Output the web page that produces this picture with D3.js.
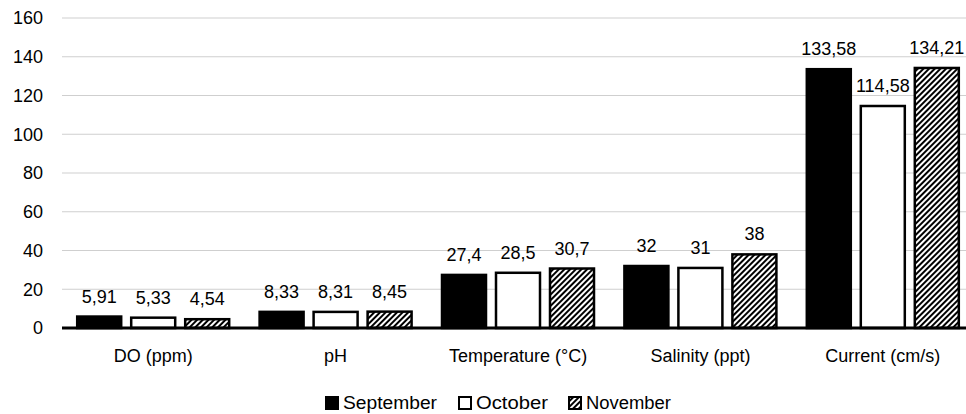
<!DOCTYPE html>
<html>
<head>
<meta charset="utf-8">
<script src="https://cdn.jsdelivr.net/npm/d3@7"></script>
<style>
  body { margin: 0; background: #fff; overflow: hidden; }
  text { font-family: "Liberation Sans", Arial, sans-serif; fill: #000; }
</style>
</head>
<body>
<div id="chart"></div>
<script>
// chart data
const categories = ["DO (ppm)", "pH", "Temperature (°C)", "Salinity (ppt)", "Current (cm/s)"];
const months = ["September", "October", "November"];
const september = [5.91, 8.33, 27.4, 32, 133.58];
const october = [5.33, 8.31, 28.5, 31, 114.58];
const november = [4.54, 8.45, 30.7, 38, 134.21];
const yTicks = [0, 20, 40, 60, 80, 100, 120, 140, 160];

const series = [september, october, november];
const fmt = v => String(v).replace(".", ",");

const width = 966, height = 414;
// plot area runs a little past the right edge (cropped like the original)
const margin = {top: 18, left: 62};
const innerW = 912, innerH = 310;

const svg = d3.select("#chart").append("svg")
    .attr("width", width)
    .attr("height", height);

// hatch pattern for November
const defs = svg.append("defs");
const pat = defs.append("pattern")
    .attr("id", "hatch")
    .attr("patternUnits", "userSpaceOnUse")
    .attr("width", 4).attr("height", 4)
    .attr("patternTransform", "rotate(45)");
pat.append("rect").attr("width", 4).attr("height", 4).attr("fill", "#fff");
pat.append("rect").attr("width", 2).attr("height", 4).attr("fill", "#000");

const fills = ["#000", "#fff", "url(#hatch)"];

const g = svg.append("g").attr("transform", `translate(${margin.left},${margin.top})`);

const x = d3.scaleBand().domain(categories).range([0, innerW]);
const barW = 44, barGap = 10;
const groupW = 3 * barW + 2 * barGap;
const xs = d3.scaleBand().domain(months).range([0, groupW]).paddingInner(barGap / (barW + barGap));
const groupOff = (x.bandwidth() - groupW) / 2;

const y = d3.scaleLinear().domain([0, 160]).range([innerH, 0]);

// gridlines
g.append("g")
  .selectAll("line")
  .data(yTicks.filter(d => d > 0))
  .enter().append("line")
    .attr("x1", 0).attr("x2", innerW)
    .attr("y1", d => y(d)).attr("y2", d => y(d))
    .attr("stroke", "#cfcfcf")
    .attr("stroke-width", 1.2);

// y axis labels
const yAxis = g.append("g")
  .attr("transform", "translate(-19,0)")
  .call(d3.axisLeft(y).tickValues(yTicks).tickSize(0).tickPadding(0));
yAxis.select(".domain").remove();
yAxis.selectAll("text").style("font-size", "18px").attr("fill", "#000");

// bars
months.forEach((m, i) => {
  g.selectAll(".bar" + i)
    .data(series[i])
    .enter().append("rect")
      .attr("x", (d, j) => x(categories[j]) + groupOff + xs(m))
      .attr("y", d => y(d))
      .attr("width", xs.bandwidth())
      .attr("height", d => y(0) - y(d))
      .attr("fill", fills[i])
      .attr("stroke", "#000")
      .attr("stroke-width", 2.5);

  g.selectAll(".lab" + i)
    .data(series[i])
    .enter().append("text")
      .attr("x", (d, j) => x(categories[j]) + groupOff + xs(m) + xs.bandwidth() / 2)
      .attr("y", d => y(d) - 14)
      .attr("text-anchor", "middle")
      .style("font-size", "18px")
      .text(d => fmt(d));
});

// zero line
g.append("line")
  .attr("x1", 0).attr("x2", innerW)
  .attr("y1", y(0)).attr("y2", y(0))
  .attr("stroke", "#000").attr("stroke-width", 3);

// category labels
const xAxis = g.append("g")
  .attr("transform", `translate(0,${innerH})`)
  .call(d3.axisBottom(x).tickSize(0).tickPadding(21));
xAxis.select(".domain").remove();
xAxis.selectAll("text").style("font-size", "18px").attr("fill", "#000");

// legend
const legendX = [326, 459, 569];
const legendW = [94, 72, 85];
const legend = svg.append("g").attr("transform", "translate(0,409)");
months.forEach((m, i) => {
  legend.append("rect")
    .attr("x", legendX[i]).attr("y", -12)
    .attr("width", 12).attr("height", 12)
    .attr("fill", fills[i])
    .attr("stroke", "#000").attr("stroke-width", 2);
  legend.append("text")
    .attr("x", legendX[i] + 17).attr("y", 0)
    .attr("textLength", legendW[i])
    .attr("lengthAdjust", "spacingAndGlyphs")
    .style("font-size", "18px")
    .text(m);
});
</script>
</body>
</html>
